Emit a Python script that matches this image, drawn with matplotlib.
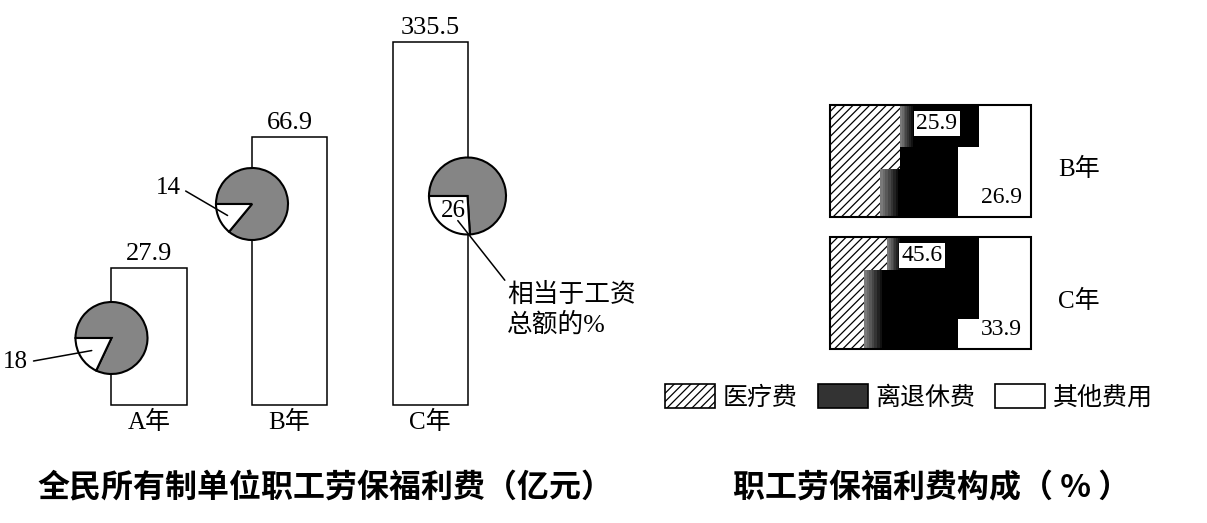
import numpy as np
import matplotlib
matplotlib.use("Agg")
import matplotlib.pyplot as plt
from matplotlib.patches import Wedge, Polygon, Rectangle, Patch

plt.rcParams["font.family"] = ["Liberation Serif", "Noto Sans CJK SC"]

# %% Data

# Left: welfare expenses of state-owned units (100 million yuan)
years = ["A年", "B年", "C年"]
expense = [27.9, 66.9, 335.5]
# share of total wages (%), shown as pies
wage_share = [18, 14, 26]
# the printed bars are not drawn to scale: heights
bar_drawn = [1.37, 2.68, 3.63]

# Right: composition of expenses (%)
comp_years = ["B年", "C年"]
retire_pct = [25.9, 45.6]
other_pct = [26.9, 33.9]
legend_labels = ["医疗费", "离退休费", "其他费用"]

# stepped outline of the composition boxes (percent of box width)
med_edge_top = [34.8, 28.4]
med_edge_bot = [24.9, 16.9]
med_step = [0.571, 0.297]
oth_edge_top = [74.1, 74.1]
oth_edge_bot = [63.7, 63.7]
oth_step = [0.375, 0.73]

W, H = 1207, 523
fig = plt.figure(figsize=(W / 100, H / 100), dpi=100)

# %% Left chart (1 unit = 100 px in both directions)

ax = fig.add_axes([0, (H - 405) / H, 700 / W, 405 / H])
ax.set_xlim(0, 7)
ax.set_ylim(0, 4.05)
ax.axis("off")

x = 1.49 + np.arange(3) * 1.405
bw = 0.75
ax.bar(x, bar_drawn, width=bw, facecolor="white", edgecolor="black",
       linewidth=1.1, clip_on=False, zorder=1)

for xi, h, v, yr in zip(x, bar_drawn, expense, years):
    ax.text(xi, h + 0.08, f"{v}", ha="center", va="baseline", fontsize=19)
    ax.text(xi, -0.06, yr, ha="center", va="top", fontsize=18)

pie_cx = [x[0] - bw / 2, x[1] - bw / 2, x[2] + bw / 2]
pie_cy = [0.67, 2.01, 2.09]
pie_r = [0.36, 0.36, 0.385]
gray = "#858585"

for cx, cy, r, s in zip(pie_cx, pie_cy, pie_r, wage_share):
    a2 = 180 + s * 3.6
    ax.add_patch(Wedge((cx, cy), r, a2, 540, facecolor=gray,
                       edgecolor="black", linewidth=1.5, zorder=3))
    ax.add_patch(Wedge((cx, cy), r, 180, a2, facecolor="white",
                       edgecolor="black", linewidth=1.5, zorder=3))


def slice_point(i, frac):
    mid = np.deg2rad(180 + wage_share[i] * 1.8)
    return (pie_cx[i] + frac * pie_r[i] * np.cos(mid),
            pie_cy[i] + frac * pie_r[i] * np.sin(mid))


line = dict(arrowstyle="-", color="black", lw=1.1, shrinkA=2, shrinkB=0)
ax.annotate(f"{wage_share[0]}", xy=slice_point(0, 0.65), xytext=(0.155, 0.43),
            ha="center", va="center", fontsize=18,
            arrowprops=dict(line, relpos=(1, 0.5)), annotation_clip=False)
ax.annotate(f"{wage_share[1]}", xy=slice_point(1, 0.75), xytext=(1.68, 2.17),
            ha="center", va="center", fontsize=18,
            arrowprops=dict(line, relpos=(1, 0.5)))

c26 = slice_point(2, 0.52)
ax.text(c26[0], c26[1], f"{wage_share[2]}", ha="center", va="center",
        fontsize=18, zorder=4)
ax.annotate("相当于工资\n总额的%", xy=(c26[0] + 0.04, c26[1] - 0.1),
            xytext=(5.07, 1.22), ha="left", va="top", fontsize=18.5,
            linespacing=1.25,
            arrowprops=dict(line, relpos=(0, 1), shrinkA=0))

# %% Right chart (x in percent of box width, rows 1 unit apart)

ax2 = fig.add_axes([820 / W, (H - 360) / H, 387 / W, 270 / H])
ax2.set_xlim(-10 / 2.01, (W - 830) / 2.01)
ax2.set_ylim(270 / 132 - 15 / 132, -15 / 132)
ax2.axis("off")

rh = 0.85
plt.rcParams["hatch.linewidth"] = 0.9
shades = ["#7a7a7a", "#6a6a6a", "#585858", "#464646", "#343434",
          "#222222", "#111111"]
for i, yr in enumerate(comp_years):
    t, b = i, i + rh
    ax2.add_patch(Rectangle((0, t), 100, rh, facecolor="black",
                            edgecolor="none", zorder=1))
    # gray fade on the left side of the retirement block
    ms = t + med_step[i] * rh
    ost = t + oth_step[i] * rh
    for k, c in enumerate(shades):
        ax2.add_patch(Rectangle((med_edge_top[i] + k * 0.9, t), 0.9,
                                ost - t if i == 0 else ms - t,
                                facecolor=c, edgecolor="none", zorder=1.5))
        ax2.add_patch(Rectangle((med_edge_bot[i] + k * 1.3, ms), 1.3,
                                b - ms, facecolor=c, edgecolor="none",
                                zorder=1.5))
    med = [(0, t), (med_edge_top[i], t), (med_edge_top[i], ms),
           (med_edge_bot[i], ms), (med_edge_bot[i], b), (0, b)]
    ax2.add_patch(Polygon(med, closed=True, facecolor="white",
                          edgecolor="black", hatch="////", linewidth=0,
                          zorder=2))
    oth = [(oth_edge_top[i], t), (100, t), (100, b), (oth_edge_bot[i], b),
           (oth_edge_bot[i], ost), (oth_edge_top[i], ost)]
    ax2.add_patch(Polygon(oth, closed=True, facecolor="white",
                          edgecolor="none", zorder=2))
    ax2.add_patch(Rectangle((0, t), 100, rh, facecolor="none",
                            edgecolor="black", linewidth=1.5, zorder=3))

    ax2.text(53.2 if i == 0 else 45.8, t + 0.14, f"{retire_pct[i]}",
             ha="center", va="center", fontsize=17, zorder=4,
             bbox=dict(facecolor="white", edgecolor="none", pad=1.5))
    ax2.text(95.5, t + 0.70, f"{other_pct[i]}", ha="right", va="center",
             fontsize=17, zorder=4)
    ax2.text(123.9, t + 0.485, yr, ha="center", va="center", fontsize=18)

handles = [
    Patch(facecolor="white", edgecolor="black", hatch="////", linewidth=1.2),
    Patch(facecolor="#333333", edgecolor="black", linewidth=1.2),
    Patch(facecolor="white", edgecolor="black", linewidth=1.2),
]
fig.legend(handles, legend_labels, loc="center",
           bbox_to_anchor=(909 / W, 1 - 397 / H), ncol=3, frameon=False,
           fontsize=18, handlelength=2.0, handleheight=1.1,
           handletextpad=0.3, columnspacing=0.8, borderaxespad=0)

# %% Titles

fig.text(325 / W, 1 - 488 / H, "全民所有制单位职工劳保福利费（亿元）",
         ha="center", va="center", fontsize=23, fontweight="bold",
         family="Noto Sans CJK SC")
fig.text(932 / W, 1 - 488 / H, "职工劳保福利费构成（ % ）",
         ha="center", va="center", fontsize=23, fontweight="bold",
         family="Noto Sans CJK SC")

fig.savefig("out.png", dpi=100, facecolor="white")
